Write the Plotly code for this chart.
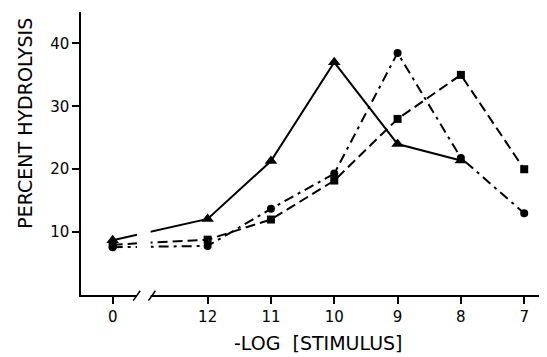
import plotly.graph_objects as go

# -log[stimulus] categories (0 = no stimulus)
stimulus = [0, 12, 11, 10, 9, 8, 7]
tick_labels = ["0", "12", "11", "10", "9", "8", "7"]

# series values (percent hydrolysis)
triangle_vals = [8.7, 12.1, 21.3, 37.0, 24.0, 21.4]          # solid, up to 8
square_vals = [8.0, 8.8, 12.0, 18.2, 28.0, 35.0, 20.0]        # dashed
circle_vals = [7.6, 7.8, 13.7, 19.3, 38.5, 21.8, 13.0]        # dash-dot

y_ticks = [10, 20, 30, 40]


def pos(s):
    # broken axis: 0 sits alone, then 12..7 evenly spaced
    return 0.0 if s == 0 else 13.5 - s


xs = [pos(s) for s in stimulus]

fig = go.Figure()
fig.add_trace(go.Scatter(
    x=xs[:len(triangle_vals)], y=triangle_vals, mode="lines+markers",
    line=dict(color="black", width=2, dash="solid"),
    marker=dict(symbol="triangle-up", size=11, color="black"),
    showlegend=False))
fig.add_trace(go.Scatter(
    x=xs, y=square_vals, mode="lines+markers",
    line=dict(color="black", width=2, dash="10px,5px"),
    marker=dict(symbol="square", size=8, color="black"),
    showlegend=False))
fig.add_trace(go.Scatter(
    x=xs, y=circle_vals, mode="lines+markers",
    line=dict(color="black", width=2, dash="10px,5px,3px,5px"),
    marker=dict(symbol="circle", size=8, color="black"),
    showlegend=False))

font = "DejaVu Sans"

# axis break: white gap through lines and axis, plus two slashes
fig.add_shape(type="rect", xref="x", yref="paper", x0=0.385, x1=0.6, y0=-0.02, y1=1,
              fillcolor="white", line=dict(width=0), layer="above")
for xc in [0.38, 0.62]:
    fig.add_shape(type="line", xref="x", yref="paper",
                  x0=xc - 0.055, x1=xc + 0.055, y0=-0.02, y1=0.015,
                  line=dict(color="black", width=1.5), layer="above")

# axis titles as annotations (fixed positions)
fig.add_annotation(text="PERCENT HYDROLYSIS", xref="paper", yref="paper",
                   x=-0.122, y=0.606, textangle=-90, showarrow=False,
                   xanchor="center", yanchor="middle",
                   font=dict(size=19, family=font, color="black"))
fig.add_annotation(text="-LOG\u00a0\u00a0[STIMULUS]", xref="paper", yref="paper",
                   x=0.509, y=-0.170, showarrow=False,
                   xanchor="center", yanchor="middle",
                   font=dict(size=19, family=font, color="black"))

# page body has an 8px default margin, so the figure is sized to fit the window
fig.update_layout(
    width=539, height=349,
    margin=dict(l=73, r=0, t=4, b=62),
    paper_bgcolor="white", plot_bgcolor="white",
    font=dict(family=font, color="black", size=14),
)
fig.update_xaxes(
    range=[-0.5, 6.86], tickmode="array",
    tickvals=xs, ticktext=tick_labels,
    showline=True, linecolor="black", linewidth=1.5,
    ticks="outside", ticklen=7, tickwidth=1.5, tickcolor="black",
    showgrid=False, zeroline=False, automargin=False,
    tickfont=dict(size=15, family=font),
)
fig.update_yaxes(
    range=[0, 45], tickvals=y_ticks,
    showline=True, linecolor="black", linewidth=1.5,
    ticks="outside", ticklen=7, tickwidth=1.5, tickcolor="black",
    showgrid=False, zeroline=False, automargin=False,
    tickfont=dict(size=15, family=font),
)

fig.write_html("out.html")
